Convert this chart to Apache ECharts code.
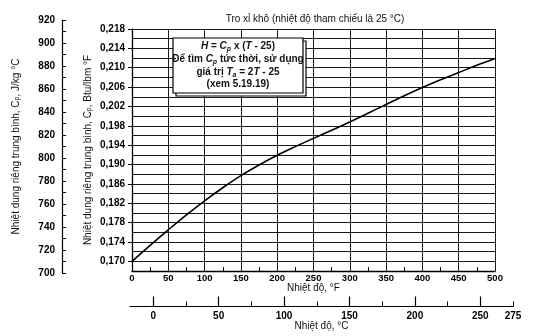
<!DOCTYPE html>
<html>
<head>
<meta charset="utf-8">
<script src="https://cdn.jsdelivr.net/npm/echarts@6/dist/echarts.min.js"></script>
<style>html,body{margin:0;padding:0;background:#fff}#c{width:533px;height:336px}</style>
</head>
<body>
<div id="c"></div>
<script>
// ---- data ----
const fahrenheit = [0,25,50,75,100,125,150,175,200,225,250,275,300,325,350,375,400,425,450,475,500];
const cpBtu = [0.1700,0.1733,0.1765,0.1796,0.1825,0.1852,0.1877,0.1899,0.1919,0.1937,0.1954,0.1971,0.1988,0.2006,0.2024,0.2042,0.2059,0.2075,0.2090,0.2105,0.2119];
const btuLabels = [0.170,0.174,0.178,0.182,0.186,0.190,0.194,0.198,0.202,0.206,0.210,0.214,0.218];
const fahrenheitLabels = [0,50,100,150,200,250,300,350,400,450,500];
const celsiusMajor = [0,50,100,150,200,250];
const celsiusMinor = [25,75,125,175,225,275];
const celsiusLabels = [0,50,100,150,200,250,275];
const jouleLabels = [700,720,740,760,780,800,820,840,860,880,900,920];

const FONT = "'Liberation Sans', Arial, sans-serif";
const INK = '#111';
const chart = echarts.init(document.getElementById('c'), null, {renderer:'canvas'});

const subRich = {
  sub: {fontSize: 7, verticalAlign: 'bottom', lineHeight: 7, fontFamily: FONT, color: INK}
};
const boxRich = {
  i: {fontStyle: 'italic', fontWeight: 'bold', fontSize: 10, fontFamily: FONT, color: INK, lineHeight: 13},
  s: {fontStyle: 'italic', fontWeight: 'bold', fontSize: 7, fontFamily: FONT, color: INK, verticalAlign: 'bottom', lineHeight: 8},
  n: {fontWeight: 'bold', fontSize: 10, fontFamily: FONT, color: INK, lineHeight: 13}
};
function boxText(y, txt){
  return {type:'text', z:101, x: 238, y: y,
    style:{text: txt, rich: boxRich, align:'center', verticalAlign:'middle',
      fontWeight:'bold', fontSize:10, fontFamily:FONT, fill:INK}};
}
const tickLabel = {fontSize:10, color:'#000', fontFamily:FONT, fontWeight:'bold'};

const lineData = fahrenheit.map((f,i)=>[f, cpBtu[i]]);

chart.setOption({
  animation: false,
  backgroundColor: '#fff',
  textStyle: {fontFamily: FONT, color: INK},
  title: {
    text: 'Tro xỉ khô (nhiệt độ tham chiếu là 25 °C)',
    left: 310, top: 9, textAlign: 'center',
    textStyle: {fontSize: 10, fontWeight: 'normal', color: INK, fontFamily: FONT}
  },
  grid: [
    {left: 132, right: 38, top: 29, bottom: 65},
    {left: 130, right: 20, top: 300, bottom: 29.5},
    {left: 62, width: 10, top: 20, bottom: 63}
  ],
  xAxis: [
    {gridIndex:0, type:'value', min:0, max:500, interval:50,
     axisLine:{show:true, lineStyle:{color:'#000', width:1.3}},
     axisTick:{show:false, inside:true},
     minorTick:{show:true, splitNumber:2, length:4, lineStyle:{color:'#000', width:1}},
     splitLine:{show:true, lineStyle:{color:'#1a1a1a', width:1}},
     axisLabel:Object.assign({}, tickLabel, {customValues: fahrenheitLabels, margin:2, fontSize:9.5}),
     name:'Nhiệt độ, °F', nameLocation:'middle', nameGap:12, nameMoveOverlap:false,
     nameTextStyle:{fontSize:10, color:INK, fontFamily:FONT}},
    {gridIndex:1, type:'value', min:-17.7778, max:275, position:'bottom', offset:0,
     axisLine:{show:true, lineStyle:{color:'#000', width:1.2}},
     axisTick:{show:true, inside:true, length:10, customValues: celsiusMajor, lineStyle:{color:'#000', width:1.2}},
     splitLine:{show:false},
     axisLabel:Object.assign({customValues: celsiusLabels, margin:5}, tickLabel),
     name:'Nhiệt độ, °C', nameLocation:'middle', nameGap:15, nameMoveOverlap:false,
     nameTextStyle:{fontSize:10, color:INK, fontFamily:FONT}},
    {gridIndex:1, type:'value', min:-17.7778, max:275, position:'bottom', offset:0,
     axisLine:{show:false},
     axisTick:{show:true, inside:true, length:5, customValues: celsiusMinor, lineStyle:{color:'#000', width:1}},
     splitLine:{show:false}, axisLabel:{show:false}},
    {gridIndex:2, type:'value', show:false}
  ],
  yAxis: [
    {gridIndex:0, type:'value', min:0.168, max:0.218, interval:0.002,
     axisLine:{show:true, lineStyle:{color:'#000', width:1.3}},
     axisTick:{show:false},
     splitLine:{show:true, lineStyle:{color:'#1a1a1a', width:1}},
     axisLabel:Object.assign({customValues: btuLabels, margin:7,
       formatter: v => v.toFixed(3).replace('.', ',')}, tickLabel),
     name:'Nhiệt dung riêng trung bình, C{sub|p}, Btu/lbm °F', nameLocation:'middle', nameRotate:90, nameGap:39,
     nameMoveOverlap:false,
     nameTextStyle:{fontSize:10, color:INK, fontFamily:FONT, rich: subRich}},
    {gridIndex:1, type:'value', show:false},
    {gridIndex:2, type:'value', min:700, max:920, interval:20,
     axisLine:{show:true, lineStyle:{color:'#000', width:1.2}},
     axisTick:{show:true, inside:true, length:4, lineStyle:{color:'#000'}},
     minorTick:{show:true, splitNumber:2, length:4, lineStyle:{color:'#000', width:1}},
     splitLine:{show:false},
     axisLabel:Object.assign({customValues: jouleLabels, margin:7}, tickLabel),
     name:'Nhiệt dung riêng trung bình, C{sub|p}, J/kg °C', nameLocation:'middle', nameRotate:90, nameGap:41,
     nameMoveOverlap:false,
     nameTextStyle:{fontSize:10, color:INK, fontFamily:FONT, rich: subRich}},
    {gridIndex:0, type:'value', min:0.168, max:0.218, position:'left', offset:0,
     axisLine:{show:false}, splitLine:{show:false}, axisLabel:{show:false},
     axisTick:{show:true, length:4, customValues: btuLabels, lineStyle:{color:'#000'}}}
  ],
  series: [
    {type:'line', xAxisIndex:0, yAxisIndex:0, data: lineData, smooth:0.4, symbol:'none',
     lineStyle:{color:'#000', width:1.6}, z:5}
  ],
  graphic: [
    {type:'rect', z:99, shape:{x:176, y:41, width:130, height:55}, style:{fill:'#fff', stroke:'#000', lineWidth:1.2}},
    {type:'rect', z:100, shape:{x:173, y:38, width:130, height:55}, style:{fill:'#fff', stroke:'#000', lineWidth:1.2}},
    boxText(46, '{i|H}{n| = }{i|C}{s|p}{n| x (}{i|T}{n| - 25)}'),
    boxText(59, '{n|Để tìm }{i|C}{s|p}{n| tức thời, sử dụng}'),
    boxText(72, '{n|giá trị }{i|T}{s|a}{n| = 2}{i|T}{n| - 25}'),
    boxText(84, '{n|(xem 5.19.19)}')
  ]
});
</script>
</body>
</html>
